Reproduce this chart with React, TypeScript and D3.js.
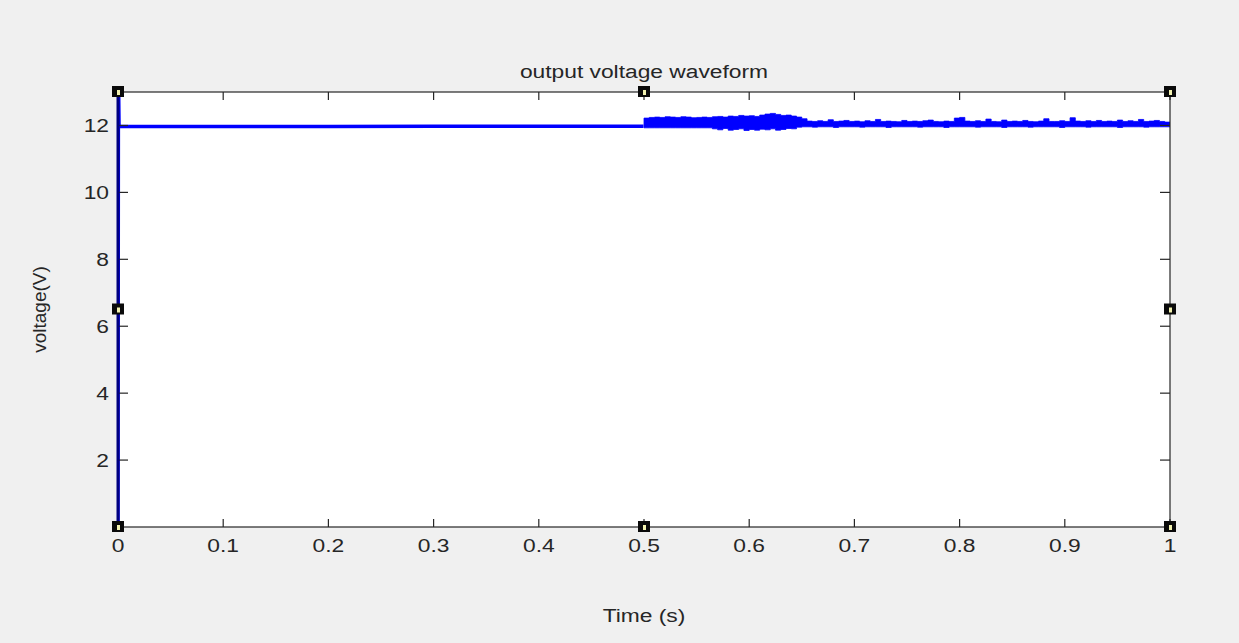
import React from "react";
import * as d3 from "d3";

const W = 1239;
const H = 643;
const margin = { top: 92, right: 69, bottom: 116, left: 118 };
const SX = 1.2; // the picture is stretched sideways, text too

const xTicks = [0, 0.1, 0.2, 0.3, 0.4, 0.5, 0.6, 0.7, 0.8, 0.9, 1];
const xTickLabels = ["0", "0.1", "0.2", "0.3", "0.4", "0.5", "0.6", "0.7", "0.8", "0.9", "1"];
const yTicks = [2, 4, 6, 8, 10, 12];
const yTickLabels = ["2", "4", "6", "8", "10", "12"];

// start-up and first half (load step at 0.5 s)
const startTime = [0, 0.0004, 0.001, 0.05, 0.1, 0.2, 0.3, 0.4, 0.4995];
const startVolt = [0, 13.6, 11.97, 11.97, 11.97, 11.97, 11.98, 11.98, 11.98];

// second half, ripple envelope sampled every 5 ms
const bandStart = 0.5;
const bandStep = 0.005;
const bandUpper = [
  12.22, 12.24, 12.25, 12.24, 12.26, 12.25, 12.24, 12.26, 12.25, 12.23,
  12.24, 12.25, 12.24, 12.26, 12.27, 12.25, 12.28, 12.27, 12.3, 12.28,
  12.29, 12.27, 12.31, 12.34, 12.36, 12.33, 12.3, 12.31, 12.28, 12.25, 12.2,
  12.13, 12.12, 12.14, 12.12, 12.17, 12.12, 12.13, 12.15, 12.12, 12.13,
  12.11, 12.14, 12.12, 12.18, 12.12, 12.13, 12.12, 12.11, 12.15, 12.12,
  12.13, 12.12, 12.14, 12.16, 12.12, 12.11, 12.13, 12.12, 12.22, 12.24,
  12.13, 12.12, 12.14, 12.12, 12.19, 12.12, 12.11, 12.16, 12.12, 12.13,
  12.12, 12.15, 12.12, 12.11, 12.13, 12.2, 12.12, 12.12, 12.14, 12.12,
  12.23, 12.13, 12.12, 12.14, 12.12, 12.15, 12.12, 12.13, 12.12, 12.16,
  12.12, 12.14, 12.12, 12.18, 12.12, 12.13, 12.15, 12.12, 12.1, 12.08,
];
const bandLower = [
  11.93, 11.93, 11.93, 11.93, 11.93, 11.93, 11.93, 11.93, 11.93, 11.93,
  11.93, 11.93, 11.93, 11.9, 11.87, 11.91, 11.86, 11.88, 11.9, 11.85,
  11.88, 11.86, 11.89, 11.87, 11.9, 11.86, 11.88, 11.91, 11.9, 11.95,
  11.96, 11.96, 11.95, 11.96, 11.96, 11.96, 11.94, 11.96, 11.96, 11.96,
  11.96, 11.95, 11.96, 11.96, 11.96, 11.96, 11.94, 11.96, 11.96, 11.96,
  11.96, 11.96, 11.95, 11.96, 11.96, 11.96, 11.96, 11.94, 11.96, 11.96,
  11.96, 11.96, 11.96, 11.95, 11.96, 11.96, 11.96, 11.96, 11.94, 11.96,
  11.96, 11.96, 11.96, 11.95, 11.96, 11.96, 11.96, 11.96, 11.96, 11.94,
  11.96, 11.96, 11.96, 11.96, 11.95, 11.96, 11.96, 11.96, 11.96, 11.96,
  11.94, 11.96, 11.96, 11.96, 11.96, 11.95, 11.96, 11.96, 11.96, 11.96,
  11.96,
];

const font = "'Liberation Sans', Arial, sans-serif";

export default function App() {
  const iw = W - margin.left - margin.right;
  const ih = H - margin.top - margin.bottom;
  const x = d3.scaleLinear().domain([0, 1]).range([margin.left, margin.left + iw]);
  const y = d3.scaleLinear().domain([0, 13]).range([margin.top + ih, margin.top]);

  const startLine = d3
    .line<number>()
    .x((_, i) => x(startTime[i]))
    .y((d) => y(d))(startVolt) as string;

  const band = d3
    .area<number>()
    .x((_, i) => x(bandStart + i * bandStep))
    .y0((_, i) => y(bandLower[i]))
    .y1((d) => y(d))
    .curve(d3.curveStepAfter)(bandUpper) as string;

  const x0 = x(0), x1 = x(1), y0 = y(0), y1 = y(13);
  const tk = 8;
  const handles: [number, number][] = [];
  [0, 0.5, 1].forEach((hx) =>
    [0, 6.5, 13].forEach((hy) => {
      if (!(hx === 0.5 && hy === 6.5)) handles.push([x(hx), y(hy)]);
    })
  );

  return (
    <svg width={W} height={H} style={{ position: "absolute", left: 0, top: 0 }} fontFamily={font}>
      <rect width={W} height={H} fill="#f0f0f0" />
      <rect x={x0} y={y1} width={x1 - x0} height={y0 - y1} fill="#fff" />
      <defs>
        <clipPath id="plot">
          <rect x={x0} y={y1} width={x1 - x0} height={y0 - y1} />
        </clipPath>
      </defs>
      <g clipPath="url(#plot)">
        <path d={startLine} fill="none" stroke="#0000ff" strokeWidth={3.5} />
        <path d={band} fill="#0000ff" stroke="#0000ff" strokeWidth={0.8} />
      </g>
      <g stroke="#262626" strokeWidth={1.2} fill="none">
        <rect x={x0} y={y1} width={x1 - x0} height={y0 - y1} />
        {xTicks.map((t) => (
          <g key={"xt" + t}>
            <line x1={x(t)} x2={x(t)} y1={y0} y2={y0 - tk} />
            <line x1={x(t)} x2={x(t)} y1={y1} y2={y1 + tk} />
          </g>
        ))}
        {yTicks.map((t) => (
          <g key={"yt" + t}>
            <line x1={x0} x2={x0 + tk + 2} y1={y(t)} y2={y(t)} />
            <line x1={x1} x2={x1 - tk - 2} y1={y(t)} y2={y(t)} />
          </g>
        ))}
      </g>
      <line x1={x0} x2={x0} y1={y0} y2={y1} stroke="#000080" strokeWidth={3} />
      <g fontSize={19} fill="#262626">
        {xTicks.map((t, i) => (
          <text key={"xl" + t} transform={`translate(${x(t)},${y0 + 25}) scale(${SX},1)`} textAnchor="middle">
            {xTickLabels[i]}
          </text>
        ))}
        {yTicks.map((t, i) => (
          <text key={"yl" + t} transform={`translate(${x0 - 9},${y(t) + 7}) scale(${SX},1)`} textAnchor="end">
            {yTickLabels[i]}
          </text>
        ))}
        <text transform={`translate(${(x0 + x1) / 2},78) scale(${SX},1)`} textAnchor="middle">
          output voltage waveform
        </text>
        <text transform={`translate(${(x0 + x1) / 2},622) scale(${SX},1)`} textAnchor="middle">
          Time (s)
        </text>
        <text transform={`translate(46,${(y0 + y1) / 2}) scale(1,1) rotate(-90)`} textAnchor="middle">
          voltage(V)
        </text>
      </g>
      {handles.map(([hx, hy], i) => (
        <g key={"h" + i}>
          <rect x={hx - 6} y={hy - 6} width={12} height={11} fill="#0a0a0a" />
          <rect x={hx - 1} y={hy - 2} width={3} height={5} fill="#f2f2b0" />
        </g>
      ))}
    </svg>
  );
}
